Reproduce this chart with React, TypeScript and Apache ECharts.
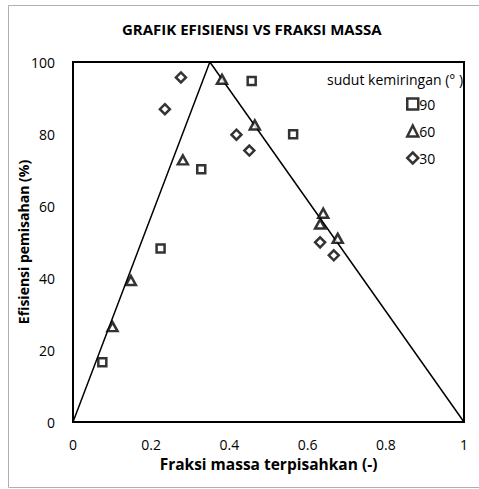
import React, { useEffect, useRef } from "react";
import * as echarts from "echarts";

const titleText = "GRAFIK EFISIENSI VS FRAKSI MASSA";
const xAxisName = "Fraksi massa terpisahkan (-)";
const yAxisName = "Efisiensi pemisahan (%)";
const legendTitle = "sudut kemiringan (° )";

const seriesNames = ["90", "60", "30"];

const s90: number[][] = [
  [0.075, 16.6],
  [0.224, 48.2],
  [0.328, 70.2],
  [0.457, 94.7],
  [0.563, 79.9],
];
const s60: number[][] = [
  [0.101, 26.5],
  [0.148, 39.3],
  [0.281, 72.8],
  [0.381, 95.2],
  [0.465, 82.5],
  [0.640, 58.0],
  [0.632, 55.0],
  [0.677, 51.0],
];
const s30: number[][] = [
  [0.276, 95.7],
  [0.235, 86.9],
  [0.418, 79.8],
  [0.451, 75.4],
  [0.632, 49.9],
  [0.667, 46.3],
];
const envelope: number[][] = [
  [0, 0],
  [0.35, 100],
  [1, 0],
];

const FONT = "Open Sans";

export default function App() {
  const ref = useRef<HTMLDivElement>(null);
  useEffect(() => {
    if (!ref.current) return;
    const chart = echarts.init(ref.current, null, { renderer: "svg" });
    const markerStyle = { color: "#ffffff", borderColor: "#000000", borderWidth: 2.5 };
    chart.setOption({
      animation: false,
      backgroundColor: "#ffffff",
      title: {
        text: titleText,
        left: 117,
        top: 16,
        textStyle: { fontFamily: FONT, fontSize: 15, fontWeight: "bold", color: "#000" },
      },
      graphic: [
        {
          type: "rect",
          shape: { x: 8.5, y: 5.5, width: 480, height: 482 },
          style: { fill: "none", stroke: "#b0b0b0", lineWidth: 1 },
          silent: true,
        },
        {
          type: "text",
          left: 327,
          top: 72,
          style: { text: legendTitle, fontFamily: FONT, fontSize: 14, fill: "#000" },
        },
      ],
      legend: {
        data: seriesNames,
        orient: "vertical",
        left: 401,
        top: 92,
        itemGap: 13,
        itemWidth: 11,
        itemHeight: 11,
        itemStyle: { color: "#ffffff", borderColor: "#000000", borderWidth: 2.5 },
        textStyle: { fontFamily: FONT, fontSize: 14, color: "#000", padding: [0, 0, 0, -4] },
      },
      grid: {
        left: 73,
        right: 15,
        top: 62,
        bottom: 67,
        show: true,
        borderColor: "#000",
        borderWidth: 2,
      },
      xAxis: {
        type: "value",
        min: 0,
        max: 1,
        interval: 0.2,
        name: xAxisName,
        nameLocation: "middle",
        nameGap: 34,
        nameMoveOverlap: false,
        nameTextStyle: { fontFamily: FONT, fontSize: 15.5, fontWeight: "bold", color: "#000" },
        axisLine: { show: true, lineStyle: { color: "#000", width: 2 } },
        axisTick: { show: false },
        splitLine: { show: false },
        axisLabel: { fontFamily: FONT, fontSize: 14, color: "#000", margin: 15 },
      },
      yAxis: {
        type: "value",
        min: 0,
        max: 100,
        interval: 20,
        name: yAxisName,
        nameLocation: "middle",
        nameGap: 43,
        nameMoveOverlap: false,
        nameTextStyle: { fontFamily: FONT, fontSize: 14, fontWeight: "bold", color: "#000" },
        axisLine: { show: true, lineStyle: { color: "#000", width: 2 } },
        axisTick: { show: false },
        splitLine: { show: false },
        axisLabel: { fontFamily: FONT, fontSize: 14, color: "#000", margin: 18 },
      },
      series: [
        {
          name: "envelope",
          type: "line",
          data: envelope,
          symbol: "none",
          lineStyle: { color: "#000", width: 1.5 },
          silent: true,
          z: 1,
        },
        {
          name: "90",
          type: "scatter",
          data: s90,
          symbol: "rect",
          symbolSize: 8,
          itemStyle: markerStyle,
          z: 3,
        },
        {
          name: "60",
          type: "scatter",
          data: s60,
          symbol: "triangle",
          symbolSize: [10, 9],
          itemStyle: markerStyle,
          z: 3,
        },
        {
          name: "30",
          type: "scatter",
          data: s30,
          symbol: "diamond",
          symbolSize: 10,
          itemStyle: markerStyle,
          z: 3,
        },
      ],
    });
    return () => chart.dispose();
  }, []);
  return (
    <div
      ref={ref}
      style={{ position: "fixed", left: 0, top: 0, width: 479, height: 489 }}
    />
  );
}
